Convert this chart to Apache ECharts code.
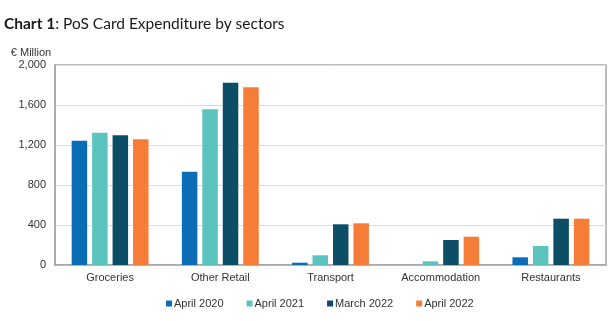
<!DOCTYPE html>
<html>
<head>
<meta charset="utf-8">
<script src="https://cdn.jsdelivr.net/npm/echarts@6/dist/echarts.min.js"></script>
<style>
  html, body { margin: 0; padding: 0; background: #fff; }
  #chart { width: 614px; height: 321px; }
</style>
</head>
<body>
<div id="chart"></div>
<script>
// Sectors on the x axis
const sectors = ['Groceries', 'Other Retail', 'Transport', 'Accommodation', 'Restaurants'];

// PoS card expenditure, € million, per period
const april2020 = [1243, 933, 23, 0, 77];
const april2021 = [1323, 1557, 97, 37, 190];
const march2022 = [1297, 1823, 407, 250, 463];
const april2022 = [1257, 1777, 417, 283, 463];

const periodNames = ['April 2020', 'April 2021', 'March 2022', 'April 2022'];
const periodColors = ['#0a6db5', '#5cc4be', '#0c4e66', '#f57d38'];
const periodValues = [april2020, april2021, march2022, april2022];

const chart = echarts.init(document.getElementById('chart'));

chart.setOption({
  animation: false,
  textStyle: { fontFamily: 'Liberation Sans, Arial, sans-serif' },
  title: {
    text: '{b|Chart 1}: PoS Card Expenditure by sectors',
    left: 4,
    top: 16,
    padding: 0,
    textStyle: {
      fontFamily: 'Lato',
      fontSize: 15.5,
      fontWeight: 'normal',
      color: '#1a1a1a',
      rich: {
        b: { fontFamily: 'Lato', fontSize: 15.5, fontWeight: 'bold', color: '#1a1a1a' }
      }
    }
  },
  grid: { left: 55, right: 8, top: 65, bottom: 56, containLabel: false,
          show: true, borderColor: '#a6a6a6', borderWidth: 1.5 },
  legend: {
    data: periodNames,
    left: 161,
    top: 293,
    itemWidth: 6,
    itemHeight: 6,
    itemGap: 23,
    icon: 'rect',
    textStyle: { fontSize: 11, color: '#333', padding: [0, 0, 0, -3] }
  },
  xAxis: {
    type: 'category',
    data: sectors,
    axisLine: { lineStyle: { color: '#a6a6a6', width: 1.5 } },
    axisTick: { show: false },
    axisLabel: { fontSize: 11, color: '#333', margin: 7 }
  },
  yAxis: {
    type: 'value',
    min: 0,
    max: 2000,
    interval: 400,
    name: '€ Million',
    nameLocation: 'end',
    nameGap: 7,
    nameTextStyle: { fontSize: 11, color: '#333', align: 'center', padding: [0, 0, 0, -48] },
    axisLine: { show: true, lineStyle: { color: '#a6a6a6', width: 1.5 } },
    axisTick: { show: false },
    axisLabel: {
      fontSize: 11,
      color: '#333',
      margin: 9,
      formatter: v => v.toLocaleString('en-US')
    },
    splitLine: { lineStyle: { color: '#dcdcdc', width: 1 } }
  },
  series: periodNames.map((name, i) => ({
    name,
    type: 'bar',
    data: periodValues[i],
    barWidth: 15.5,
    barGap: '32%',
    itemStyle: { color: periodColors[i] }
  }))
});
</script>
</body>
</html>
